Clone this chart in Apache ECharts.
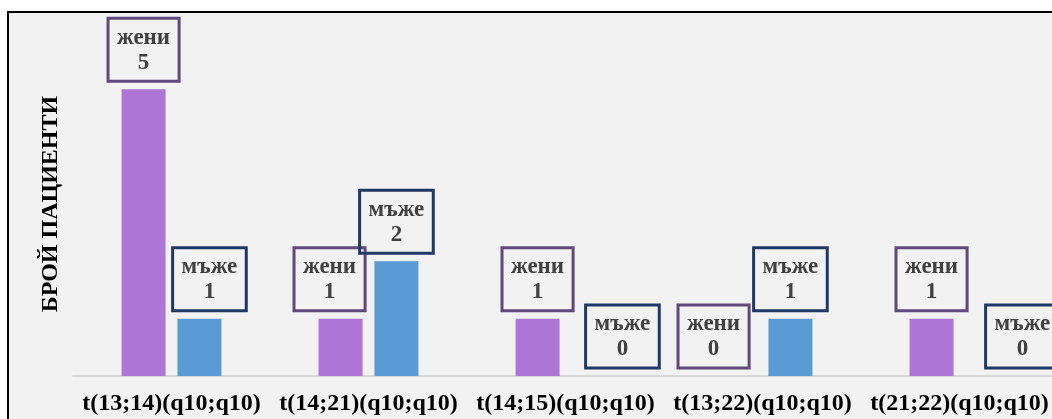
<!DOCTYPE html>
<html>
<head>
<meta charset="utf-8">
<script src="https://cdn.jsdelivr.net/npm/echarts@6/dist/echarts.min.js"></script>
<style>
  html, body { margin: 0; padding: 0; background: #ffffff; overflow: hidden; }
  #frame {
    position: absolute; left: 7px; top: 11px; width: 1200px; height: 600px;
    background: #f2f2f2; border-left: 2px solid #000; border-top: 2px solid #000;
  }
  #chart { position: absolute; left: 0; top: 0; width: 1052px; height: 419px; }
</style>
</head>
<body>
<div id="frame"></div>
<div id="chart"></div>
<script>
// Translocation types on the x axis
const categories = [
  't(13;14)(q10;q10)',
  't(14;21)(q10;q10)',
  't(14;15)(q10;q10)',
  't(13;22)(q10;q10)',
  't(21;22)(q10;q10)'
];
// Number of patients per translocation
const women = [5, 1, 1, 0, 1];
const men = [1, 2, 0, 1, 0];
const womenName = 'жени';
const menName = 'мъже';
const axisTitle = 'БРОЙ ПАЦИЕНТИ';

// Horizontal nudges of the value boxes so neighbouring boxes don't collide
const womenLabelShift = [0, -11, 0, -21, 0];
const menLabelShift = [10, 0, 29, 0, 35];

const serif = '"Liberation Serif", "Times New Roman", serif';

function boxLabel(borderColor) {
  return {
    show: true,
    position: 'top',
    distance: 8,
    formatter: '{a}\n{c}',
    fontFamily: serif,
    fontWeight: 'bold',
    fontSize: 23,
    lineHeight: 25,
    color: '#404040',
    align: 'center',
    borderColor: borderColor,
    borderWidth: 1.5,
    padding: [7, 9, 6, 9],
    backgroundColor: 'transparent'
  };
}

function withShift(values, shifts) {
  return values.map((v, i) => ({
    value: v,
    label: { offset: [shifts[i], 0] }
  }));
}

const chart = echarts.init(document.getElementById('chart'), null, { renderer: 'canvas' });
chart.setOption({
  backgroundColor: 'transparent',
  animation: false,
  grid: { left: 73, top: 32, width: 985, height: 344, outerBoundsMode: 'none', containLabel: false },
  xAxis: {
    type: 'category',
    data: categories,
    axisLine: { show: true, lineStyle: { color: '#d9d9d9', width: 2 } },
    axisTick: { show: false },
    axisLabel: {
      interval: 0,
      margin: 16,
      fontFamily: serif,
      fontWeight: 'bold',
      fontSize: 24,
      color: '#000000'
    }
  },
  yAxis: {
    type: 'value',
    min: 0,
    max: 6,
    interval: 1,
    name: axisTitle,
    nameLocation: 'middle',
    nameGap: 10,
    nameRotate: 90,
    nameTextStyle: {
      fontFamily: serif,
      fontWeight: 'bold',
      fontSize: 24,
      color: '#000000'
    },
    axisLine: { show: false },
    axisTick: { show: false },
    axisLabel: { show: false },
    splitLine: { show: false }
  },
  series: [
    {
      name: womenName,
      type: 'bar',
      data: withShift(women, womenLabelShift),
      barWidth: 44,
      barGap: '27%',
      itemStyle: { color: '#ad75d6' },
      label: boxLabel('#604a7b')
    },
    {
      name: menName,
      type: 'bar',
      data: withShift(men, menLabelShift),
      barWidth: 44,
      itemStyle: { color: '#5b9bd5' },
      label: boxLabel('#203864')
    }
  ]
});
</script>
</body>
</html>
